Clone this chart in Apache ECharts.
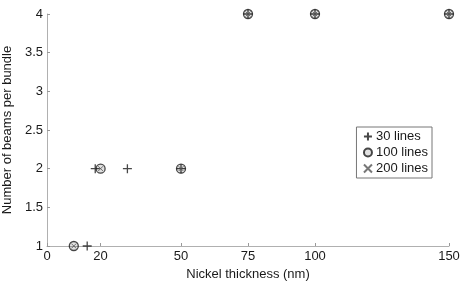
<!DOCTYPE html>
<html><head><meta charset="utf-8">
<script src="https://cdn.jsdelivr.net/npm/echarts@6/dist/echarts.min.js"></script>
<style>html,body{margin:0;padding:0;background:#fff}#c{width:460px;height:282px}</style>
</head><body><div id="c"></div>
<script>
const xTicks = [0, 20, 50, 75, 100, 150];
const yTicks = [1, 1.5, 2, 2.5, 3, 3.5, 4];
const seriesNames = ['30 lines', '100 lines', '200 lines'];
const lines30 = [[15, 1], [18, 2], [30, 2], [50, 2], [75, 4], [100, 4], [150, 4]];
const lines100 = [[10, 1], [20, 2], [50, 2], [75, 4], [100, 4], [150, 4]];
const lines200 = [[10, 1], [20, 2], [50, 2], [75, 4], [100, 4], [150, 4]];

const PLUS = 'path://M0,5L10,5M5,0L5,10';
const CROSS = 'path://M0,0L10,10M0,10L10,0';
const FONT = '"Liberation Sans", Arial, sans-serif';
const ink = '#1a1a1a';

const chart = echarts.init(document.getElementById('c'), null, {renderer: 'canvas'});
chart.setOption({
  animation: false,
  textStyle: {fontFamily: FONT},
  grid: {left: 47, right: 11, top: 14, bottom: 36, containLabel: false, outerBoundsMode: 'none'},
  legend: {
    orient: 'vertical',
    right: 28, top: 127,
    width: 74,
    borderColor: '#777', borderWidth: 1,
    padding: [3, 4, 3, 5],
    itemGap: 3,
    itemWidth: 8, itemHeight: 8,
    textStyle: {fontSize: 13, color: ink, fontFamily: FONT, padding: [0, 0, 0, -1]},
    data: seriesNames
  },
  xAxis: {
    type: 'value', min: 0, max: 150,
    name: 'Nickel thickness (nm)', nameLocation: 'middle', nameGap: 20,
    nameTextStyle: {fontSize: 13, color: ink},
    splitLine: {show: false},
    axisLine: {lineStyle: {color: '#b0b0b0'}},
    axisTick: {inside: true, length: 3, customValues: xTicks, lineStyle: {color: '#999'}},
    axisLabel: {fontSize: 13, color: ink, margin: 4, customValues: xTicks}
  },
  yAxis: {
    type: 'value', min: 1, max: 4, interval: 0.5,
    name: 'Number of beams per bundle', nameLocation: 'middle', nameGap: 29,
    nameTextStyle: {fontSize: 13, color: ink},
    splitLine: {show: false},
    axisLine: {show: true, lineStyle: {color: '#b0b0b0'}},
    axisTick: {show: true, inside: true, length: 3, lineStyle: {color: '#999'}},
    axisLabel: {fontSize: 13, color: ink, margin: 4, customValues: yTicks}
  },
  series: [
    {name: seriesNames[0], type: 'scatter', data: lines30, symbol: PLUS, symbolSize: 9,
     itemStyle: {color: 'none', borderColor: ink, borderWidth: 1.3}},
    {name: seriesNames[1], type: 'scatter', data: lines100, symbol: 'circle', symbolSize: 9,
     itemStyle: {color: 'rgba(0,0,0,0.15)', borderColor: ink, borderWidth: 1.3}},
    {name: seriesNames[2], type: 'scatter', data: lines200, symbol: CROSS, symbolSize: 5,
     itemStyle: {color: 'none', borderColor: '#555', borderWidth: 1}}
  ]
});
</script></body></html>
